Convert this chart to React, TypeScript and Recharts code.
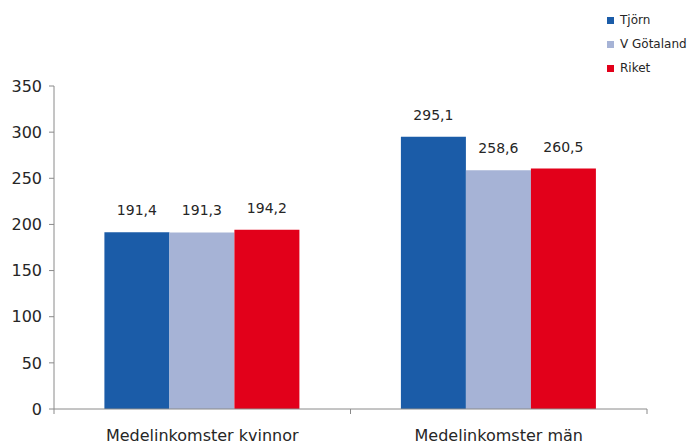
import React from 'react';
import { BarChart, Bar, XAxis, YAxis, Legend, LabelList } from 'recharts';

const categories = ['Medelinkomster kvinnor', 'Medelinkomster män'];
const tjorn = [191.4, 295.1];
const vgotaland = [191.3, 258.6];
const riket = [194.2, 260.5];
const yTicks = [0, 50, 100, 150, 200, 250, 300, 350];

const series = [
  { key: 'tjorn', name: 'Tjörn', color: '#1b5ca8', values: tjorn },
  { key: 'vg', name: 'V Götaland', color: '#a6b3d6', values: vgotaland },
  { key: 'riket', name: 'Riket', color: '#e2001a', values: riket },
];

const data = categories.map((name, i) => {
  const row: any = { name };
  series.forEach((s) => (row[s.key] = s.values[i]));
  return row;
});

const FONT = '"DejaVu Sans", sans-serif';
const TEXT = '#262626';
const AXIS = '#8a8a8a';
const PLOT_WIDTH = 700 - 54 - 53;
const fmt = (v: any) => Number(v).toFixed(1).replace('.', ',');

const XTick = (props: any) => {
  const { x, y, payload } = props;
  const axisWidth = typeof props.width === 'number' && props.width > 100 ? props.width : PLOT_WIDTH;
  const half = axisWidth / categories.length / 2;
  return (
    <g>
      <line x1={x - half} x2={x - half} y1={y} y2={y + 5} stroke={AXIS} />
      <line x1={x + half} x2={x + half} y1={y} y2={y + 5} stroke={AXIS} />
      <text x={x} y={y + 21} dy="0.71em" textAnchor="middle" fontFamily={FONT} fontSize={16} fill={TEXT}>
        {payload.value}
      </text>
    </g>
  );
};

const LegendContent = () => (
  <div style={{ fontFamily: FONT, fontSize: 12, color: TEXT }}>
    {series.map((s) => (
      <div key={s.key} style={{ display: 'flex', alignItems: 'center', height: 24 }}>
        <span style={{ display: 'inline-block', width: 7, height: 7, background: s.color, marginRight: 6 }} />
        <span>{s.name}</span>
      </div>
    ))}
  </div>
);

export default function App() {
  return (
    <div style={{ position: 'absolute', left: 0, top: 0, background: '#fff' }}>
      <BarChart
        width={700}
        height={448}
        data={data}
        margin={{ top: 86, right: 53, bottom: 0, left: 0 }}
        barCategoryGap="17%"
        barGap={0}
      >
        <XAxis
          dataKey="name"
          tick={<XTick />}
          tickLine={false}
          axisLine={{ stroke: AXIS }}
          tickSize={0}
          tickMargin={0}
          height={39}
          interval={0}
        />
        <YAxis
          domain={[0, 350]}
          ticks={yTicks}
          width={54}
          tickSize={5}
          tickMargin={7}
          axisLine={{ stroke: AXIS }}
          tickLine={{ stroke: AXIS }}
          tick={{ fontFamily: FONT, fontSize: 16, fill: TEXT }}
          interval={0}
        />
        <Legend
          verticalAlign="middle"
          align="center"
          layout="horizontal"
          content={<LegendContent />}
          wrapperStyle={{ position: 'absolute', left: 607, top: 8, width: 93 }}
        />
        {series.map((s) => (
          <Bar key={s.key} dataKey={s.key} name={s.name} fill={s.color} isAnimationActive={false}>
            <LabelList
              dataKey={s.key}
              position="top"
              offset={17}
              formatter={fmt}
              style={{ fontFamily: FONT, fontSize: 14, fill: TEXT }}
            />
          </Bar>
        ))}
      </BarChart>
    </div>
  );
}
